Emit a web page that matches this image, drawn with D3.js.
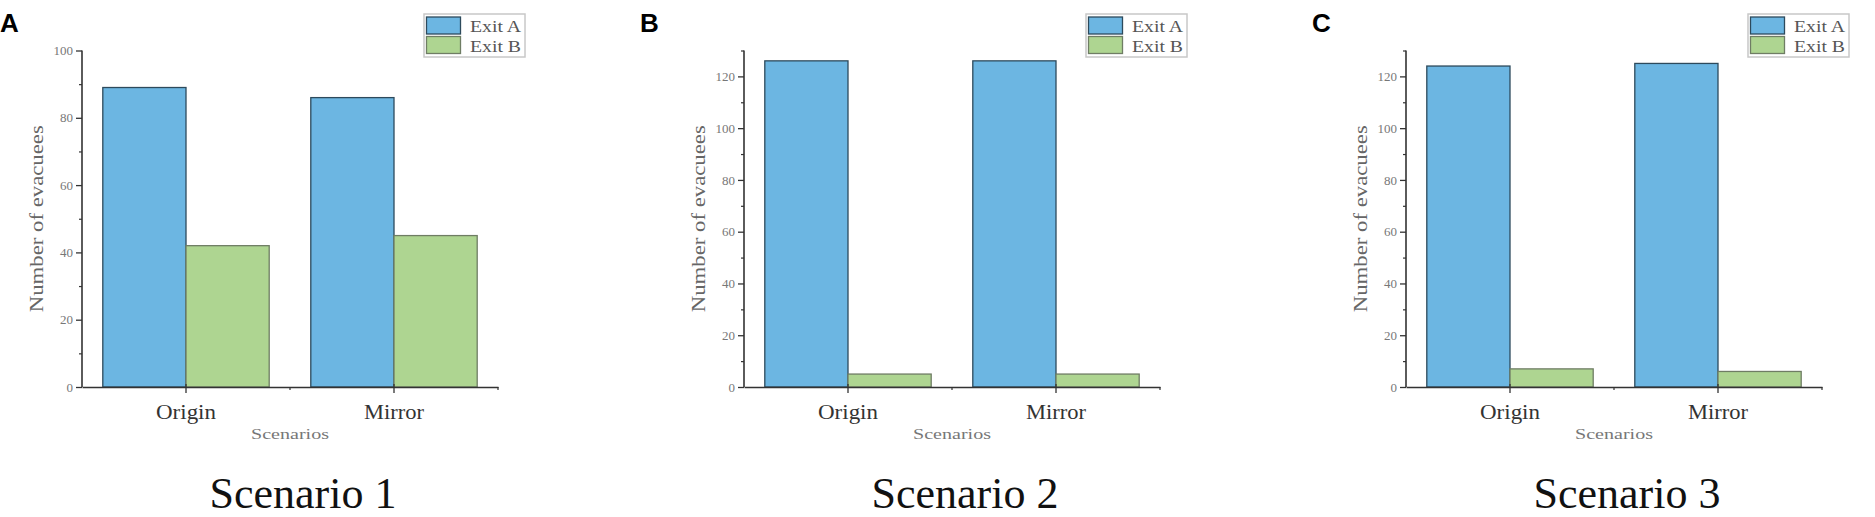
<!DOCTYPE html>
<html>
<head>
<meta charset="utf-8">
<script src="https://cdn.jsdelivr.net/npm/d3@7"></script>
<style>
  body { margin: 0; background: #fff; }
  svg { display: block; }
  .tick text { font-family: "Liberation Serif", serif; }
</style>
</head>
<body>
<div id="chart"></div>
<script>
const categories = ['Origin', 'Mirror'];
const seriesNames = ['Exit A', 'Exit B'];
const panelLetters = ['A', 'B', 'C'];
const panelTitles = ['Scenario 1', 'Scenario 2', 'Scenario 3'];

// values per scenario, one array per exit (Origin, Mirror)
const exitA1 = [89, 86];
const exitB1 = [42, 45];
const exitA2 = [126, 126];
const exitB2 = [5, 5];
const exitA3 = [124, 125];
const exitB3 = [7, 6];

const yTicks1 = [0, 20, 40, 60, 80, 100];
const yTicks23 = [0, 20, 40, 60, 80, 100, 120];
const yMinor1 = [10, 30, 50, 70, 90];
const yMinor23 = [10, 30, 50, 70, 90, 110, 130];
const yMaxes = [100, 130, 130];

const panels = [
  { a: exitA1, b: exitB1, ticks: yTicks1, minor: yMinor1 },
  { a: exitA2, b: exitB2, ticks: yTicks23, minor: yMinor23 },
  { a: exitA3, b: exitB3, ticks: yTicks23, minor: yMinor23 }
];

const colors = ['#6cb6e2', '#aed591'];
const strokes = ['#2d4a5c', '#6f7d64'];

const fullWidth = 1875;
const fullHeight = 517;
const panelStep = 662;
const axisLeft = 82;
const plotWidth = 416;
const plotTop = 50.5;
const plotBottom = 387;

const svg = d3.select('#chart')
  .append('svg')
  .attr('width', fullWidth)
  .attr('height', fullHeight);

panels.forEach((p, i) => {
  const x0 = axisLeft + panelStep * i;
  const g = svg.append('g').attr('transform', `translate(${x0}, 0)`);

  const x = d3.scaleBand()
    .domain(categories)
    .range([0, plotWidth])
    .paddingInner(0.2)
    .paddingOuter(0.1);

  const xInner = d3.scaleBand()
    .domain(seriesNames)
    .range([0, x.bandwidth()]);

  const y = d3.scaleLinear()
    .domain([0, yMaxes[i]])
    .range([plotBottom, plotTop]);

  const rows = categories.map((c, k) => ({ cat: c, values: [p.a[k], p.b[k]] }));

  // bars
  const groups = g.selectAll('.grp')
    .data(rows)
    .enter()
    .append('g')
    .attr('transform', d => `translate(${x(d.cat)}, 0)`);

  groups.selectAll('rect')
    .data(d => d.values.map((v, s) => ({ s: s, v: v })))
    .enter()
    .append('rect')
    .attr('x', d => xInner(seriesNames[d.s]))
    .attr('y', d => y(d.v))
    .attr('width', xInner.bandwidth())
    .attr('height', d => y(0) - y(d.v))
    .attr('fill', d => colors[d.s])
    .attr('stroke', d => strokes[d.s])
    .attr('stroke-width', 1.3);

  // y axis
  const yAxis = g.append('g')
    .call(d3.axisLeft(y).tickValues(p.ticks).tickSize(6).tickPadding(3));
  yAxis.select('.domain').attr('stroke', '#333').attr('stroke-width', 1.6)
    .attr('d', `M0,${y(yMaxes[i])}V${y(0)}`);
  yAxis.selectAll('.tick line').attr('stroke', '#333').attr('stroke-width', 1.3);
  yAxis.selectAll('.tick text').attr('fill', '#777').attr('font-size', 13);

  const yMinorAxis = g.append('g')
    .call(d3.axisLeft(y).tickValues(p.minor).tickSize(3).tickFormat(''));
  yMinorAxis.select('.domain').remove();
  yMinorAxis.selectAll('.tick line').attr('stroke', '#333').attr('stroke-width', 1.2);

  // x axis
  const xAxis = g.append('g')
    .attr('transform', `translate(0, ${y(0)})`)
    .call(d3.axisBottom(x).tickSize(6).tickSizeOuter(0).tickPadding(12));
  xAxis.select('.domain').attr('stroke', '#333').attr('stroke-width', 1.6);
  xAxis.selectAll('.tick line').attr('stroke', '#333').attr('stroke-width', 1.3)
    .attr('y1', -3);
  xAxis.selectAll('.tick text')
    .attr('fill', '#333')
    .attr('font-size', 20)
    .attr('textLength', 60)
    .attr('lengthAdjust', 'spacingAndGlyphs');

  // minor ticks at band boundaries
  xAxis.selectAll('.minor')
    .data([1, 2])
    .enter()
    .append('line')
    .attr('x1', k => k * x.step())
    .attr('x2', k => k * x.step())
    .attr('y1', 0)
    .attr('y2', 3)
    .attr('stroke', '#333')
    .attr('stroke-width', 1.2);

  // axis titles
  g.append('text')
    .attr('x', plotWidth / 2)
    .attr('y', 439)
    .attr('text-anchor', 'middle')
    .attr('font-family', 'Liberation Serif, serif')
    .attr('font-size', 15)
    .attr('fill', '#777')
    .attr('textLength', 78)
    .attr('lengthAdjust', 'spacingAndGlyphs')
    .text('Scenarios');

  g.append('text')
    .attr('transform', `translate(-39, ${(plotTop + plotBottom) / 2}) rotate(-90)`)
    .attr('text-anchor', 'middle')
    .attr('font-family', 'Liberation Serif, serif')
    .attr('font-size', 18)
    .attr('fill', '#666')
    .attr('textLength', 187)
    .attr('lengthAdjust', 'spacingAndGlyphs')
    .text('Number of evacuees');

  // legend
  const legend = g.append('g').attr('transform', 'translate(342, 14)');
  legend.append('rect')
    .attr('x', 0).attr('y', 0)
    .attr('width', 101).attr('height', 43)
    .attr('fill', '#fff')
    .attr('stroke', '#c8c8c8')
    .attr('stroke-width', 1.5);
  seriesNames.forEach((name, s) => {
    legend.append('rect')
      .attr('x', 2.5).attr('y', 3 + s * 19.5)
      .attr('width', 34).attr('height', 17)
      .attr('fill', colors[s])
      .attr('stroke', strokes[s])
      .attr('stroke-width', 1.3);
    legend.append('text')
      .attr('x', 46).attr('y', 18 + s * 20)
      .attr('font-family', 'Liberation Serif, serif')
      .attr('font-size', 16)
      .attr('fill', '#555')
      .attr('textLength', 51)
      .attr('lengthAdjust', 'spacingAndGlyphs')
      .text(name);
  });

  // panel letter
  svg.append('text')
    .attr('x', i === 2 ? 1312 : panelStep * i + (i === 1 ? -22 : 0))
    .attr('y', 32)
    .attr('font-family', 'Liberation Sans, Arial, sans-serif')
    .attr('font-weight', 'bold')
    .attr('font-size', 26)
    .text(panelLetters[i]);

  // scenario caption
  g.append('text')
    .attr('x', 221)
    .attr('y', 508)
    .attr('text-anchor', 'middle')
    .attr('font-family', 'Liberation Serif, serif')
    .attr('font-size', 44)
    .attr('fill', '#111')
    .text(panelTitles[i]);
});
</script>
</body>
</html>
